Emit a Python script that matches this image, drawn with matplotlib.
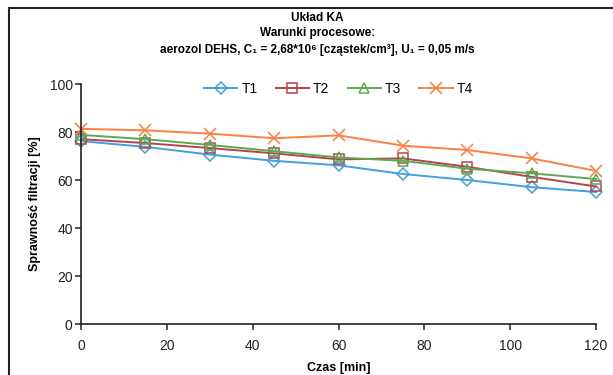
import matplotlib
matplotlib.use("Agg")
import matplotlib.pyplot as plt
from matplotlib.lines import Line2D

plt.rcParams['font.family'] = ['Liberation Sans', 'DejaVu Sans']

time_min = [0, 15, 30, 45, 60, 75, 90, 105, 120]
T1 = [76.2, 73.8, 70.6, 68.0, 66.1, 62.5, 60.0, 57.0, 55.0]
T2 = [77.0, 75.4, 73.3, 71.1, 68.6, 69.0, 65.5, 61.3, 57.3]
T3 = [78.8, 77.0, 74.6, 72.0, 69.4, 68.0, 64.7, 62.8, 60.4]
T4 = [81.3, 80.7, 79.3, 77.4, 78.6, 74.3, 72.5, 69.0, 63.8]
series_names = ['T1', 'T2', 'T3', 'T4']
x_ticks = [0, 20, 40, 60, 80, 100, 120]
y_ticks = [0, 20, 40, 60, 80, 100]

colors = ['#41A0E0', '#B5434F', '#5AAA50', '#FF7F40']
markers = ['D', 's', '^', 'x']
msizes = [6.5, 7, 6.5, 8.5]

fig = plt.figure(figsize=(6.13, 3.75), dpi=100)
ax = fig.add_axes([81/613, 1-324/375, (596-81)/613, (324-84)/375])

for name, vals, c, m, ms in zip(series_names, [T1, T2, T3, T4], colors, markers, msizes):
    ax.plot(time_min, vals, color=c, lw=1.4, marker=m, markersize=ms,
            markerfacecolor='none', markeredgecolor=c, markeredgewidth=1.1,
            label=name, clip_on=False)

ax.set_xlim(0, 120)
ax.set_ylim(0, 100)
ax.set_xticks(x_ticks)
ax.set_yticks(y_ticks)
for s in ['top', 'right']:
    ax.spines[s].set_visible(False)
for s in ['left', 'bottom']:
    ax.spines[s].set_linewidth(1.2)
    ax.spines[s].set_color('#222222')
ax.tick_params(axis='both', direction='out', length=4, width=1.1, labelsize=10,
               colors='#222222')
ax.tick_params(axis='x', pad=7)
ax.tick_params(axis='y', pad=2)

ax.set_xlabel('Czas [min]', fontsize=9, fontweight='bold', labelpad=6)
ax.set_ylabel('Sprawność filtracji [%]', fontsize=9, fontweight='bold', labelpad=6)

leg = ax.legend(loc='upper center', bbox_to_anchor=(0.5, 1.06), ncol=4, frameon=False,
                fontsize=10, handlelength=2.4, columnspacing=1.3, handletextpad=0.3)

fig.text(0.518, 1-18/375, 'Układ KA', ha='center', va='center', fontsize=8.5, fontweight='bold')
fig.text(0.518, 1-33/375, 'Warunki procesowe:', ha='center', va='center', fontsize=8.5, fontweight='bold')
fig.text(0.518, 1-50/375, 'aerozol DEHS, C₁ = 2,68*10⁶ [cząstek/cm³], U₁ = 0,05 m/s',
         ha='center', va='center', fontsize=8.5, fontweight='bold')

# outer chart frame
fig.add_artist(Line2D([9/613, 9/613], [0, 1-8/375], transform=fig.transFigure, color='#222222', lw=1.5))
fig.add_artist(Line2D([9/613, 1], [1-8/375, 1-8/375], transform=fig.transFigure, color='#222222', lw=1.5))

fig.savefig('out.png', dpi=100)
